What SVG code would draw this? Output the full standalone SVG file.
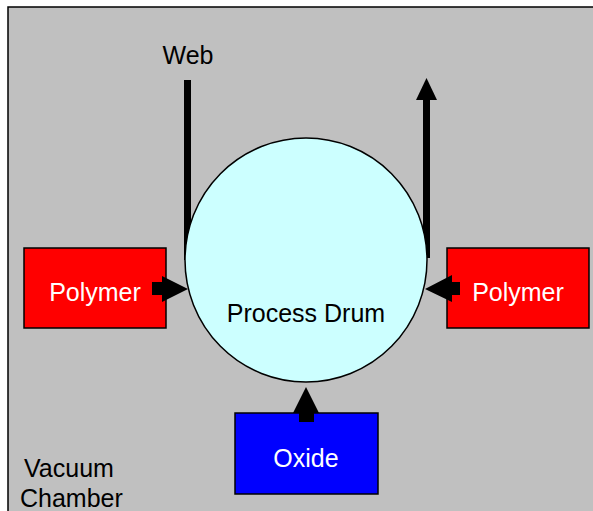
<svg xmlns="http://www.w3.org/2000/svg" width="593" height="511" viewBox="0 0 593 511">
<style>
text{font-family:"Liberation Sans",Arial,sans-serif;font-size:25px}
.box{stroke:#000;stroke-width:1.5}
.w{fill:#fff}
.arr{fill:#000}
</style>
<rect width="593" height="511" fill="#fff"/>
<g id="chamber">
<rect x="8" y="7" width="600" height="520" fill="#c0c0c0" stroke="#000" stroke-width="1.5"/>
<text x="24" y="477">Vacuum</text>
<text x="20" y="507">Chamber</text>
</g>
<g id="connectors">
<rect x="184" y="80" width="7" height="180" class="arr"/>
<rect x="423" y="98" width="7" height="160" class="arr"/>
<polygon points="416,100 426.5,78 437,100" class="arr"/>
</g>
<g id="drum">
<ellipse cx="306" cy="260" rx="121" ry="122" fill="#ccffff" stroke="#000" stroke-width="1.5"/>
<text x="306" y="322" text-anchor="middle">Process Drum</text>
</g>
<g id="web">
<text x="188" y="64" text-anchor="middle">Web</text>
</g>
<g id="polymer-left">
<rect x="24" y="248" width="142" height="80" fill="#ff0000" class="box"/>
<text x="95" y="301" text-anchor="middle" class="w">Polymer</text>
</g>
<g id="polymer-right">
<rect x="447" y="248" width="142" height="80" fill="#ff0000" class="box"/>
<text x="518" y="301" text-anchor="middle" class="w">Polymer</text>
</g>
<g id="oxide">
<rect x="235" y="413" width="143" height="81" fill="#0000ff" class="box"/>
<text x="306" y="467" text-anchor="middle" class="w">Oxide</text>
</g>
<g id="connectors-top">
<polygon points="152,282 162,282 162,276 188,289 162,302 162,295 152,295" class="arr"/>
<polygon points="460,282 452,282 452,275 425,289 452,302 452,295 460,295" class="arr"/>
<polygon points="299,422 299,413 293,413 306,387 319,413 314,413 314,422" class="arr"/>
</g>
</svg>
